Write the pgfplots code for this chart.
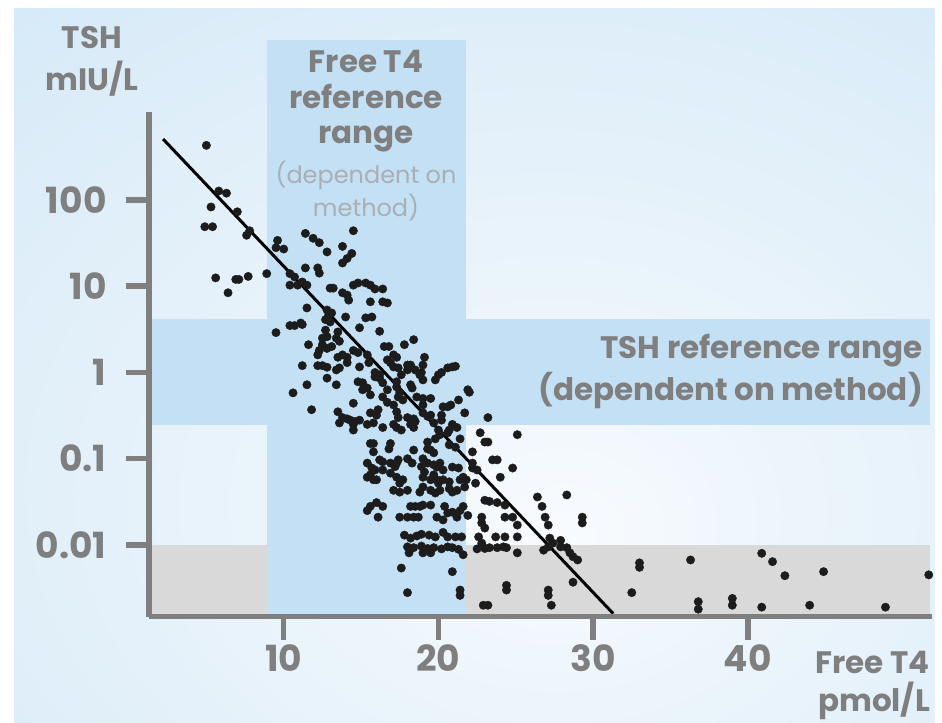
\documentclass[border=0pt]{standalone}
\usepackage{fontspec}
\setmainfont{Poppins}
\usepackage{pgfplots}
\pgfplotsset{compat=1.18}

\definecolor{bgblue}{HTML}{D5E9F7}
\definecolor{bgwhite}{HTML}{F8FBFE}
\definecolor{bandblue}{HTML}{C4E0F4}
\definecolor{lowgray}{HTML}{D9D9D9}
\definecolor{axgray}{HTML}{7F7F7F}
\definecolor{lightlab}{HTML}{A8AFB5}
\definecolor{dot}{HTML}{1C1C1C}

\pgfdeclareradialshading{bgshade}{\pgfpoint{5bp}{-12bp}}{color(0bp)=(bgwhite); color(12bp)=(bgwhite!70!bgblue); color(45bp)=(bgblue); color(100bp)=(bgblue)}

\newcommand\labf{\fontsize{31bp}{36bp}\selectfont}
\newcommand\thinf{\fontsize{24bp}{28bp}\selectfont}
\newcommand\tickf{\fontsize{36bp}{40bp}\selectfont}

\begin{document}
\begin{tikzpicture}
\path[use as bounding box] (0,0) rectangle (942bp,-723bp);
\shade[shading=bgshade] (14bp,-8bp) rectangle (935bp,-723bp);

\begin{axis}[
  at={(149bp,-616.5bp)}, anchor=south west,
  scale only axis, width=782.7bp, height=504.5bp,
  xmin=1.29, xmax=51.89, ymin=0.00148, ymax=1048,
  ymode=log, clip=false, axis on top,
  axis x line*=bottom, axis y line*=left,
  axis line style={axgray, line width=5.5bp},
  xtick pos=bottom, ytick pos=left,
  xtick={10,20,30,40},
  xticklabels={10,20,30,40},
  ytick={0.01,0.1,1,10,100},
  yticklabels={0.01,0.1,1,10,100},
  minor y tick num=0,
  xtick align=outside, ytick align=outside,
  major tick length=23bp,
  major tick style={draw=axgray, line width=5.5bp},
  tick label style={text=axgray, font=\bfseries\tickf},
  yticklabel style={xshift=-16bp},
  xticklabel style={yshift=-2bp},
]
% reference ranges
\addplot[draw=none, fill=lowgray] coordinates {(1.47,0.0016)(8.9,0.0016)(8.9,0.01)(1.47,0.01)} -- cycle;
\addplot[draw=none, fill=lowgray] coordinates {(21.8,0.0016)(51.78,0.0016)(51.78,0.01)(21.8,0.01)} -- cycle;
\addplot[draw=none, fill=bandblue] coordinates {(8.9,0.0016)(21.8,0.0016)(21.8,7160)(8.9,7160)} -- cycle;
\addplot[draw=none, fill=bandblue] coordinates {(1.47,0.246)(51.78,0.246)(51.78,4.17)(1.47,4.17)} -- cycle;

% y tick marks, outward
\pgfplotsinvokeforeach{0.01,0.1,1,10,100}{
  \draw[axgray, line width=5.5bp] (axis cs:1.29,#1) -- (axis cs:-0.19,#1);
}

% fitted line
\addplot[black, line width=3bp] coordinates {(2.2,509)(31.3,0.0016)};

% patients
\addplot[only marks, mark=*, mark size=4.2bp, mark options={fill=dot, draw=dot}] coordinates {
(5.0,430)(5.8,127)(6.3,120)(5.3,83)(7.0,73)(4.9,49)(5.4,49)(7.6,39)(7.8,44)(9.6,34)(9.5,28)(10.0,27)
(8.9,14)(5.6,12.5)(6.9,12)(7.1,12)(7.7,13)(6.4,8.4)(10.4,14)(10.7,12.8)(10.4,10.3)(10.9,10.3)
(11.4,41)(11.9,36)(12.3,32)(12.8,25)(13.8,29)(14.5,44)(14.4,24)(14.1,21)(13.8,18.6)(11.4,16.3)
(12.2,16.3)(12.3,14.2)(11.2,11.2)(11.5,10.3)(13.0,9.5)(13.2,9.5)(13.8,8.4)(14.1,7.9)(14.2,6.9)
(14.5,10.3)(14.8,10.9)(15.3,10.9)(15.6,10.3)(15.9,9.3)(16.4,9.3)(15.6,6.6)(16.4,6.6)(16.7,6.4)
(11.5,5.6)(12.8,5.3)(13.1,4.9)(12.9,4.6)(14.0,4.4)(15.3,4.3)(15.7,4.4)(11.1,3.75)(12.7,4.1)
(13.0,3.85)(12.7,3.1)(14.9,3.3)(16.2,3.0)
(10.4,3.5)(10.7,3.5)(11.2,3.6)(9.5,2.9)(12.8,2.6)(12.5,2.5)(12.5,2.1)(13.5,2.95)(13.4,2.5)(11.6,2.1)
(12.3,1.8)(12.8,1.9)(12.2,1.6)(13.1,2.0)(13.6,2.3)(13.8,1.6)(13.5,1.5)(14.1,1.5)(14.1,1.3)(14.5,1.8)
(14.8,1.7)(15.4,1.6)(16.5,2.0)(16.8,2.0)(17.8,2.1)(18.4,2.4)
(11.2,1.2)(12.2,1.2)(12.5,1.2)(12.8,1.15)(13.4,1.07)(13.6,1.13)(14.9,1.16)(15.5,1.3)(15.9,1.0)
(16.2,0.94)(16.2,0.86)(15.9,0.89)(16.7,1.4)(16.9,1.3)(17.3,1.5)(17.1,1.16)(17.1,1.6)(18.0,1.22)
(18.2,1.22)(18.0,1.07)(19.1,1.5)(19.0,1.22)(18.5,1.07)(18.8,0.94)(17.4,1.13)(17.6,0.94)(18.9,1.0)
(19.0,0.82)(20.0,0.94)(20.2,1.0)(20.6,1.13)(20.9,1.16)(21.1,1.18)(19.8,0.82)
(11.5,0.72)(10.6,0.58)(12.8,0.86)(13.4,0.72)(14.8,0.78)(15.1,0.76)(15.1,0.63)(15.4,0.66)(15.6,0.55)
(16.4,0.76)(16.7,0.63)(16.4,0.52)(16.7,0.45)(17.3,0.78)(17.3,0.68)(17.5,0.59)(17.4,0.52)(18.2,0.72)
(18.3,0.66)(18.6,0.52)(19.0,0.5)(19.5,0.5)
(11.8,0.37)(13.5,0.35)(13.8,0.3)(14.5,0.44)(15.6,0.34)(16.0,0.32)(16.1,0.37)(17.1,0.42)(17.3,0.35)
(17.4,0.30)(18.0,0.30)(18.4,0.29)(18.5,0.27)(19.0,0.42)(19.0,0.34)(19.3,0.31)(20.3,0.40)(20.6,0.40)
(20.8,0.42)(21.3,0.48)(21.9,0.63)(21.7,0.34)(20.2,0.32)(20.2,0.28)
(14.3,0.28)(14.6,0.27)(14.9,0.28)(15.4,0.25)(15.8,0.26)(13.6,0.26)(14.1,0.29)(14.5,0.25)(14.5,0.215)
(17.7,0.48)(19.5,0.32)(19.7,0.26)(20.9,0.25)
(16.4,0.23)(17.1,0.25)(17.3,0.23)(17.6,0.215)(18.2,0.25)(18.4,0.23)(20.0,0.215)(20.1,0.19)(20.7,0.215)
(21.4,0.17)(15.6,0.15)(15.8,0.15)(16.9,0.15)(18.4,0.126)(19.3,0.13)(19.5,0.126)(19.7,0.117)(19.8,0.17)
(20.7,0.145)(21.1,0.136)
(15.4,0.089)(15.7,0.078)(15.9,0.074)(16.2,0.097)(16.4,0.092)(16.9,0.089)(17.3,0.089)(17.4,0.097)
(18.0,0.10)(19.0,0.10)(19.3,0.089)(19.7,0.085)(19.9,0.08)(20.1,0.089)(20.3,0.074)(20.9,0.08)(21.3,0.078)
(15.4,0.061)(15.8,0.057)(16.0,0.057)(16.9,0.068)(17.3,0.061)(17.7,0.057)(19.0,0.061)(19.5,0.057)
(20.3,0.057)(20.7,0.054)(21.6,0.061)(21.8,0.057)
(17.1,0.043)(17.5,0.041)(18.0,0.043)(19.0,0.047)(19.5,0.043)(20.7,0.045)(21.2,0.043)
(21.2,0.23)(20.6,0.2)(19.3,0.156)(16.8,0.13)(15.8,0.12)(17.2,0.081)(16.4,0.074)(15.6,0.065)(18.3,0.089)
(18.9,0.081)(19.1,0.07)(19.7,0.065)(19.9,0.057)(20.0,0.052)(20.1,0.043)(20.9,0.041)(21.4,0.057)
(21.7,0.047)(17.5,0.052)(18.8,0.041)(19.8,0.04)
(16.0,0.031)(15.6,0.028)(15.4,0.025)(16.1,0.021)(16.4,0.028)(18.2,0.028)(18.5,0.028)(18.8,0.028)
(17.5,0.021)(18.0,0.021)(18.4,0.021)(18.7,0.021)(19.9,0.021)(20.3,0.0195)(20.6,0.0235)(20.9,0.024)
(21.4,0.025)(19.0,0.029)(19.5,0.029)(20.4,0.028)(21.6,0.028)(21.2,0.021)(21.9,0.022)
(17.8,0.013)(18.2,0.012)(18.6,0.0127)(18.9,0.0133)(19.4,0.013)(19.8,0.0124)(20.3,0.014)(20.6,0.0124)
(21.1,0.0124)(21.5,0.0124)
(18.0,0.0095)(18.4,0.0093)(18.9,0.0097)(19.3,0.0091)(19.7,0.0093)(20.2,0.009)(20.6,0.0095)(20.9,0.0093)
(21.3,0.0089)(21.6,0.0077)(18.1,0.0081)(19.0,0.0081)(19.5,0.0081)
(17.6,0.0054)(20.9,0.0049)(18.0,0.0028)(21.4,0.003)(21.4,0.0026)
(22.0,0.59)(23.2,0.30)(22.7,0.20)(23.0,0.156)(23.2,0.156)(25.1,0.19)(22.2,0.12)(23.5,0.097)(23.8,0.097)
(24.0,0.061)(24.8,0.078)(22.2,0.078)(22.5,0.074)(22.4,0.052)(23.0,0.033)(23.3,0.032)(23.8,0.031)
(24.3,0.029)(24.3,0.021)(24.8,0.021)(26.4,0.036)(26.7,0.028)(26.9,0.021)(27.1,0.017)(28.3,0.038)
(29.3,0.021)(29.3,0.018)(22.8,0.021)(22.8,0.018)(23.0,0.0157)(25.1,0.017)
(22.6,0.0124)(22.8,0.0105)(23.0,0.0091)(22.5,0.009)(23.3,0.0093)(23.7,0.0124)(23.8,0.0093)(24.2,0.0095)
(24.3,0.0124)(24.4,0.0093)(25.1,0.0124)(25.1,0.0081)(26.8,0.0087)(27.1,0.0095)(27.2,0.012)(27.4,0.0105)
(27.9,0.0113)(27.9,0.0095)(28.3,0.0093)(28.5,0.0081)(28.7,0.0073)(29.0,0.0067)
(24.4,0.0034)(24.4,0.003)(27.1,0.003)(27.1,0.0026)(27.3,0.002)(22.9,0.002)(23.2,0.002)(28.7,0.0037)
(22.2,0.089)
(32.5,0.0028)(33.0,0.0062)(33.0,0.0055)(36.3,0.0067)(36.8,0.0022)(36.8,0.0018)(39.0,0.0024)(39.0,0.002)
(40.9,0.0019)(40.9,0.008)(41.6,0.0064)(42.4,0.0044)(44.0,0.002)(44.9,0.0049)(48.9,0.0019)(51.7,0.0045)
};
\end{axis}

% x tick marks, outward, below the axis line
\foreach \tx in {283.7,438.4,593.1,747.8}
  \draw[axgray, line width=5.5bp] (\tx bp,-616.5bp) -- (\tx bp,-639.5bp);

\begin{scope}[every node/.style={inner sep=0pt, text=axgray, font=\bfseries\labf}]
\node[anchor=base] at (92bp,-48bp) {TSH};
\node[anchor=base] at (92bp,-90bp) {mIU/L};
\node[anchor=base] at (366bp,-72bp) {Free T4};
\node[anchor=base] at (366bp,-108bp) {reference};
\node[anchor=base] at (366bp,-143bp) {range};
\node[anchor=base, text=lightlab, font=\thinf] at (366bp,-183bp) {(dependent on};
\node[anchor=base, text=lightlab, font=\thinf] at (366bp,-216bp) {method)};
\node[anchor=base east] at (923bp,-358bp) {TSH reference range};
\node[anchor=base east] at (923bp,-400bp) {(dependent on method)};
\node[anchor=base east] at (930bp,-673bp) {Free T4};
\node[anchor=base east] at (930bp,-711bp) {pmol/L};
\end{scope}
\end{tikzpicture}
\end{document}
